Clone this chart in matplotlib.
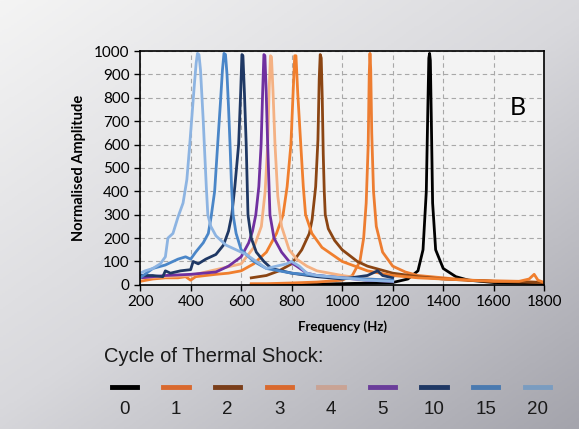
#Resonance curves of the sample after repeated thermal shock cycles
#Packages
import matplotlib.pyplot as plt
import numpy as np
from matplotlib.colors import LinearSegmentedColormap

#Data (frequency in Hz, normalised amplitude)
f0 = [640, 800, 1000, 1200, 1260, 1300, 1320, 1333, 1339, 1343, 1346, 1349, 1353, 1358, 1370, 1400, 1450, 1500, 1600, 1800]
a0 = [0, 2, 5, 10, 25, 60, 150, 400, 750, 970, 990, 960, 700, 350, 150, 70, 35, 20, 10, 5]

f1 = [640, 700, 800, 900, 1000, 1040, 1070, 1085, 1095, 1103, 1107, 1110, 1113, 1117, 1124, 1135, 1160, 1200, 1250,
      1300, 1400, 1500, 1700, 1800]
a1 = [5, 5, 8, 12, 20, 40, 100, 200, 350, 600, 900, 990, 920, 650, 400, 250, 140, 80, 55,
      40, 30, 20, 15, 10]

f2 = [640, 700, 750, 800, 840, 870, 881, 895, 904, 909, 913, 917, 921, 925, 929, 933, 945, 970, 1000, 1060, 1100, 1200,
      1300, 1400, 1600, 1800]
a2 = [30, 40, 60, 90, 150, 220, 280, 420, 620, 880, 985, 970, 800, 560, 400, 300, 240, 190, 150, 100, 80, 50,
      35, 25, 15, 10]

f3 = [200, 250, 300, 350, 380, 400, 420, 500, 550, 600, 650, 700, 740, 766, 782, 797, 806, 812, 817, 824, 836, 846, 855,
      880, 920, 1000, 1050, 1100, 1200, 1300, 1400, 1500, 1600, 1700, 1740, 1760, 1775, 1800]
a3 = [15, 25, 30, 30, 35, 20, 35, 45, 50, 60, 90, 140, 220, 300, 420, 600, 830, 980, 980, 820, 600, 420, 300,
      220, 160, 100, 80, 60, 40, 30, 25, 20, 15, 15, 25, 45, 20, 10]

f4 = [200, 400, 600, 650, 680, 695, 705, 711, 716, 720, 726, 734, 745, 760, 790, 820, 860, 900, 1000, 1100, 1200]
a4 = [30, 40, 90, 160, 250, 400, 600, 840, 980, 975, 830, 600, 380, 250, 150, 110, 80, 60, 40, 25, 20]

f5 = [200, 300, 400, 500, 550, 600, 630, 645, 658, 670, 679, 685, 690, 694, 699, 705, 714, 730, 760, 790, 820, 860, 900,
      1000, 1100, 1200]
a5 = [30, 40, 45, 55, 80, 120, 180, 230, 300, 420, 600, 820, 985, 980, 830, 600, 300, 200, 140, 100, 80, 50, 40,
      30, 20, 15]

f10 = [200, 250, 290, 300, 320, 360, 400, 410, 430, 460, 500, 530, 550, 563, 575, 590, 598, 603, 607, 613, 620, 627, 640,
       660, 690, 720, 800, 900, 1000, 1100, 1140, 1160, 1200]
a10 = [40, 40, 35, 60, 50, 60, 65, 100, 90, 110, 130, 170, 230, 300, 420, 600, 820, 985, 980, 820, 600, 300, 200,
       140, 100, 70, 50, 35, 25, 40, 60, 40, 30]

f15 = [200, 250, 300, 350, 380, 400, 420, 450, 470, 481, 495, 507, 518, 526, 532, 538, 544, 550, 556, 562, 568, 580, 600,
       650, 700, 800, 900, 1000, 1100, 1200]
a15 = [30, 70, 85, 110, 120, 110, 140, 180, 220, 290, 400, 600, 780, 920, 990, 985, 900, 760, 600, 420, 300, 220, 150,
       100, 70, 50, 40, 30, 25, 20]

f20 = [200, 220, 250, 280, 300, 310, 330, 350, 370, 385, 395, 405, 415, 422, 427, 433, 439, 445, 450, 455, 462, 468, 480,
       500, 540, 580, 620, 660, 700, 740, 780, 800, 830, 860, 900, 1000, 1100, 1200]
a20 = [50, 60, 70, 90, 120, 200, 220, 290, 350, 450, 580, 720, 860, 950, 990, 985, 920, 800, 700, 580, 420, 300, 250,
       210, 170, 150, 130, 100, 70, 80, 90, 100, 80, 50, 40, 30, 20, 15]

cycles = ["0", "1", "2", "3", "4", "5", "10", "15", "20"]
freqs = [f0, f1, f2, f3, f4, f5, f10, f15, f20]
amps = [a0, a1, a2, a3, a4, a5, a10, a15, a20]
colours = ["#000000", "#ED7D31", "#8B4513", "#F07F2E", "#F4B183", "#7030A0", "#1F3864", "#4A86C8", "#8DB4E2"]
legend_colours = ["#000000", "#D9692E", "#7A3E1A", "#D9692E", "#C9A394", "#6A3D9A", "#1F3864", "#4A7AB0", "#7A9CC0"]

x_ticks = np.arange(200, 1801, 200)
y_ticks = np.arange(0, 1001, 100)

plt.rcParams['font.family'] = ['Lato', 'DejaVu Sans']

fig = plt.figure(figsize=(5.79, 4.29), dpi=100)

#Grey poster background
bg = fig.add_axes([0, 0, 1, 1])
gx, gy = np.meshgrid(np.linspace(0, 1, 200), np.linspace(0, 1, 200))
grad = 0.55*gx + 0.6*gy
cmap = LinearSegmentedColormap.from_list("poster", ["#f4f4f4", "#d8d8dc", "#a4a4ac"])
bg.imshow(grad, cmap=cmap, aspect="auto", extent=[0, 1, 0, 1], origin="upper")
bg.axis("off")

ax = fig.add_axes([0.242, 0.336, 0.698, 0.545])
ax.set_facecolor("#f3f3f3")
for fr, am, c in zip(freqs, amps, colours):
    ax.plot(fr, am, color=c, linewidth=2.0)

ax.set_xlim(200, 1800)
ax.set_ylim(0, 1000)
ax.set_xticks(x_ticks)
ax.set_yticks(y_ticks)
ax.tick_params(labelsize=11, direction="out", length=4, width=1)
ax.grid(True, color="#a8a8a8", linestyle=(0, (4, 3)), linewidth=0.8)
for s in ax.spines.values():
    s.set_linewidth(1.2)
    s.set_color("black")
ax.set_xlabel("Frequency (Hz)", fontsize=9.5, fontweight="bold", labelpad=8)
ax.set_ylabel("Normalised Amplitude", fontsize=10.5, fontweight="bold", labelpad=6)
ax.text(0.955, 0.76, "B", transform=ax.transAxes, fontsize=18, ha="right", va="center")

#Custom legend below the chart
fig.text(0.18, 0.168, "Cycle of Thermal Shock:", fontsize=14.5, color="#1a1a1a", va="center",
         family="Liberation Sans")
leg_x = np.linspace(0.215, 0.928, len(cycles))
for lx, lab, c in zip(leg_x, cycles, legend_colours):
    fig.add_artist(plt.Line2D([lx - 0.022, lx + 0.022], [0.097, 0.097], color=c, linewidth=3.5,
                              transform=fig.transFigure))
    fig.text(lx, 0.045, lab, fontsize=13.5, ha="center", va="center", color="#1a1a1a",
             family="Liberation Sans")

plt.savefig("out.png", dpi=100)
